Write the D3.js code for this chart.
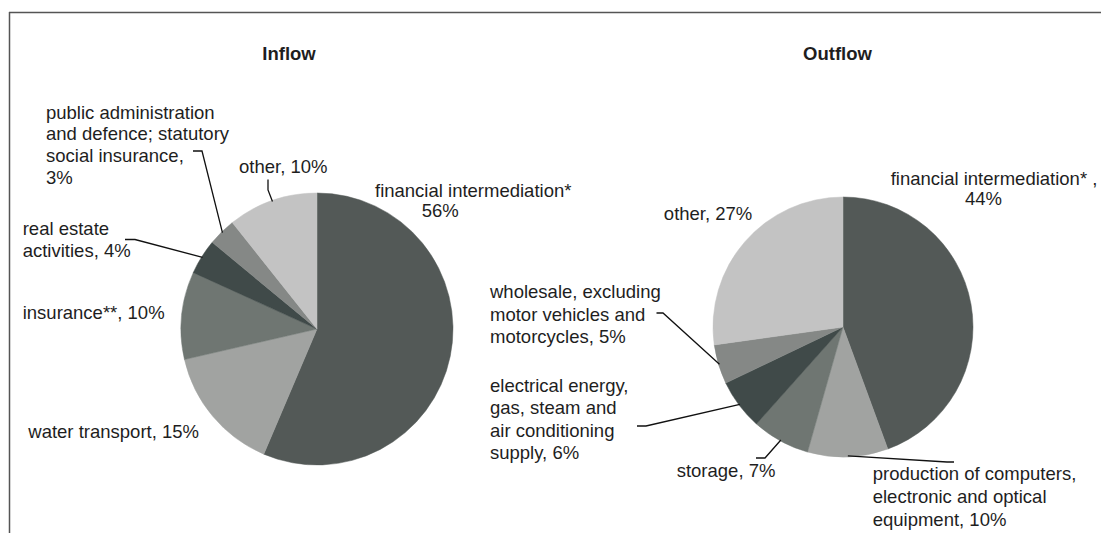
<!DOCTYPE html>
<html>
<head>
<meta charset="utf-8">
<script src="https://cdn.jsdelivr.net/npm/d3@7"></script>
<style>
  html, body { margin: 0; padding: 0; background: #fff; }
  svg { display: block; }
  text { font-family: "Liberation Sans", Arial, Helvetica, sans-serif; fill: #1e1e1e; }
</style>
</head>
<body>
<svg id="chart" width="1101" height="533"></svg>
<script>
// ---------- DATA ----------
const categoriesInflow = [
  "financial intermediation*",
  "water transport",
  "insurance**",
  "real estate activities",
  "public administration and defence; statutory social insurance",
  "other"
];
const valuesInflow = [56.4, 15.0, 10.4, 4.2, 3.3, 10.7];
const labelsInflow = [
  ["financial intermediation*", "56%"],
  ["water transport, 15%"],
  ["insurance**, 10%"],
  ["real estate", "activities, 4%"],
  ["public administration", "and defence; statutory", "social insurance,", "3%"],
  ["other, 10%"]
];

const categoriesOutflow = [
  "financial intermediation*",
  "production of computers, electronic and optical equipment",
  "storage",
  "electrical energy, gas, steam and air conditioning supply",
  "wholesale, excluding motor vehicles and motorcycles",
  "other"
];
const valuesOutflow = [44.4, 10.0, 7.2, 6.3, 4.9, 27.2];
const labelsOutflow = [
  ["financial intermediation* ,", "44%"],
  ["production of computers,", "electronic and optical", "equipment, 10%"],
  ["storage, 7%"],
  ["electrical energy,", "gas, steam and", "air conditioning", "supply, 6%"],
  ["wholesale, excluding", "motor vehicles and", "motorcycles, 5%"],
  ["other, 27%"]
];

const titles = ["Inflow", "Outflow"];

// ---------- STYLE / LAYOUT ----------
const sliceColors = ["#535957", "#a1a3a1", "#6f7672", "#404a49", "#858886", "#c3c3c3"];
const fontSize = 18.5;

const pies = [
  {
    title: titles[0], titleX: 289, titleY: 59.5,
    cx: 317, cy: 329, r: 136,
    cats: categoriesInflow, values: valuesInflow, labels: labelsInflow,
    layout: [
      { lines: [[375, 197], [421.7, 216.5]] },
      { x: 28.3, y: 438, lh: 22 },
      { x: 22.7, y: 318.5, lh: 22 },
      { x: 22.7, y: 235, lh: 22, leader: [[135, 239.5], [125, 239.5]] },
      { x: 46, y: 118.5, lh: 21.9, leader: [[202, 151], [193, 151]] },
      { x: 239, y: 173, lh: 22, leader: [[268, 190], [268, 179.5]] }
    ]
  },
  {
    title: titles[1], titleX: 837.5, titleY: 60,
    cx: 843, cy: 327, r: 130,
    cats: categoriesOutflow, values: valuesOutflow, labels: labelsOutflow,
    layout: [
      { lines: [[890.7, 185], [965, 205]] },
      { x: 872.7, y: 480, lh: 22.8, leader: [[947, 462], [954, 462]] },
      { x: 676.7, y: 476.7, lh: 22, leader: [[765, 458], [756, 458]] },
      { x: 490, y: 391.7, lh: 22.5, leader: [[646, 426], [637, 426]] },
      { x: 490, y: 298.3, lh: 22.5, leader: [[663, 313], [656.5, 313]] },
      { x: 752.3, y: 220, lh: 22, anchor: "end" }
    ]
  }
];

// ---------- DRAW ----------
const svg = d3.select("#chart");

// frame lines (top and left)
svg.append("line").attr("x1", 9).attr("x2", 1101).attr("y1", 12.5).attr("y2", 12.5)
  .attr("stroke", "#555").attr("stroke-width", 1.5);
svg.append("line").attr("x1", 9.5).attr("x2", 9.5).attr("y1", 12).attr("y2", 533)
  .attr("stroke", "#555").attr("stroke-width", 1.5);

const pieGen = d3.pie().sort(null).value(d => d.value);
const lineGen = d3.line();

pies.forEach(p => {
  const data = p.values.map((v, i) => ({ value: v, cat: p.cats[i], label: p.labels[i], layout: p.layout[i], color: sliceColors[i] }));
  const arcs = pieGen(data);
  const arc = d3.arc().innerRadius(0).outerRadius(p.r);

  const g = svg.append("g").attr("transform", `translate(${p.cx},${p.cy})`);
  g.selectAll("path.slice").data(arcs).enter().append("path")
    .attr("class", "slice")
    .attr("d", arc)
    .attr("fill", d => d.data.color)
    .attr("stroke", d => d.data.color)
    .attr("stroke-width", 0.5);

  // title
  svg.append("text").attr("x", p.titleX).attr("y", p.titleY)
    .attr("text-anchor", "middle").attr("font-weight", "bold")
    .attr("font-size", fontSize).text(p.title);

  // leader lines
  arcs.forEach(a => {
    const L = a.data.layout;
    if (!L.leader) return;
    const mid = (a.startAngle + a.endAngle) / 2;
    const rr = p.r - 1;
    const anchorPt = [p.cx + rr * Math.sin(mid), p.cy - rr * Math.cos(mid)];
    svg.append("path")
      .attr("d", lineGen([anchorPt].concat(L.leader)))
      .attr("fill", "none").attr("stroke", "#111").attr("stroke-width", 1.3);
  });

  // labels (one text element per line)
  arcs.forEach(a => {
    const L = a.data.layout;
    a.data.label.forEach((line, j) => {
      const pos = L.lines ? L.lines[j] : [L.x, L.y + j * L.lh];
      svg.append("text").attr("font-size", fontSize)
        .attr("text-anchor", L.anchor || "start")
        .attr("x", pos[0]).attr("y", pos[1]).text(line);
    });
  });
});
</script>
</body>
</html>
